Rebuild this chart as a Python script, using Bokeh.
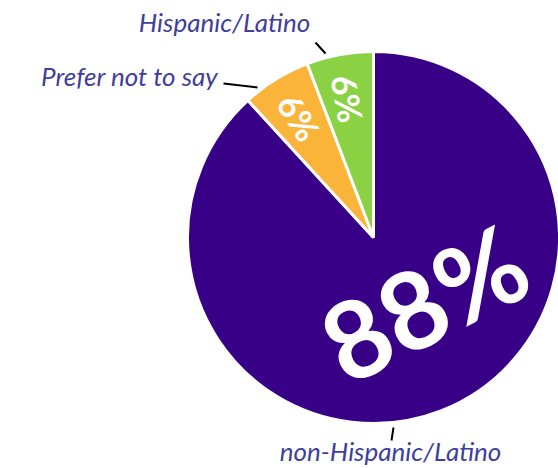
import math
from bokeh.plotting import figure
from bokeh.models import Range1d, ColumnDataSource
from bokeh.core.properties import value
from bokeh.embed import file_html
from bokeh.resources import INLINE

# ---- data ----
categories = ["non-Hispanic/Latino", "Prefer not to say", "Hispanic/Latino"]
values = [88.2, 6.0, 5.8]
pct_labels = ["88%", "6%", "6%"]
colors = ["#380087", "#FBB43A", "#8AD143"]

# ---- layout / style ----
W, H = 558, 468
CX, CY = 373, H - 237
R = 186
LABEL_COLOR = "#3f3f9c"

p = figure(width=W, height=H, x_range=Range1d(0, W), y_range=Range1d(0, H),
           output_backend="svg", toolbar_location=None, min_border=0)
p.axis.visible = False
p.grid.visible = False
p.outline_line_color = None
p.background_fill_color = "white"
p.border_fill_color = "white"

# angles: start at top, go counter-clockwise: Hispanic, Prefer, non-Hispanic
tot = sum(values)
starts = [0.0] * len(values)
ends = [0.0] * len(values)
a = math.pi / 2
for i in [2, 1, 0]:
    span = values[i] / tot * 2 * math.pi
    starts[i] = a
    ends[i] = a + span
    a += span

src = ColumnDataSource(dict(cat=categories, val=values, start=starts, end=ends, color=colors))
p.wedge(x=CX, y=CY, radius=R, start_angle="start", end_angle="end", direction="anticlock",
        fill_color="color", line_color="white", line_width=3, source=src)

# percentage labels
lab_r = [None, 0.76, 0.76]
lx, ly, lang, lsize = [], [], [], []
for i in range(len(values)):
    mid = (starts[i] + ends[i]) / 2
    if i == 0:
        lx.append(CX + 50)
        ly.append(CY - 64)
        lang.append(math.radians(27))
        lsize.append("108px")
    else:
        lx.append(CX + lab_r[i] * R * math.cos(mid))
        ly.append(CY + lab_r[i] * R * math.sin(mid))
        lang.append(mid - math.pi)
        lsize.append("34px")
lsrc = ColumnDataSource(dict(x=lx, y=ly, t=pct_labels, ang=lang, size=lsize))
p.text(x="x", y="y", text="t", angle="ang", text_font_size="size", source=lsrc,
       text_font=value("Lato"), text_font_style="bold", text_color="white",
       text_align="center", text_baseline="middle")

# category labels
cat_x = [390, 218, 224]
cat_y = [H - 450, H - 75, H - 21]
cat_align = ["center", "right", "center"]
csrc = ColumnDataSource(dict(x=cat_x, y=cat_y, t=categories, al=cat_align))
p.text(x="x", y="y", text="t", text_align="al", source=csrc,
       text_font=value("Lato"), text_font_style="italic", text_font_size="26px",
       text_color=LABEL_COLOR, text_baseline="alphabetic")

# leader lines
p.segment(x0=[391, 223, 315], y0=[H - 440, H - 83, H - 42],
          x1=[393, 257, 325], y1=[H - 427, H - 87, H - 53],
          line_color="black", line_width=2)

open("out.html", "w").write(file_html(p, INLINE))
